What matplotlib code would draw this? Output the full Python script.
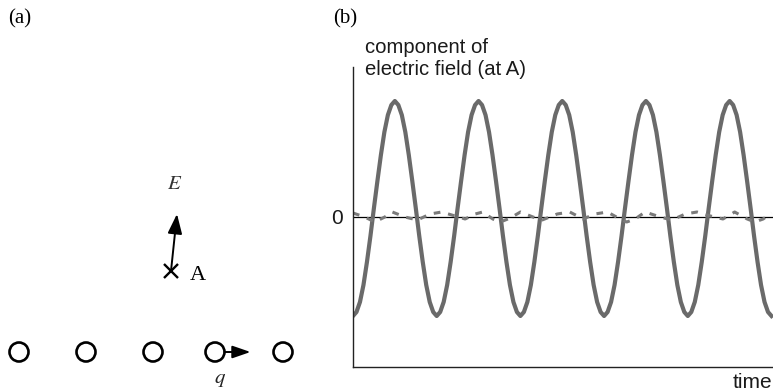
import numpy as np
import matplotlib
matplotlib.use('Agg')
import matplotlib.pyplot as plt
from matplotlib.patches import Circle, FancyArrowPatch

# --- panel (a): row of charges (pixel positions) ---
charge_x = [19, 86, 153, 215, 283]
charge_y = 352
moving_charge = 3          # index of the charge that carries the arrow
point_a = (171, 271)
field_tip = (177, 214)

# --- panel (b): field component at A, time in periods ---
solid_t = np.linspace(0, 5, 121)
solid_v = [
    -0.99, -0.95, -0.85, -0.68, -0.45, -0.19, 0.09, 0.36, 0.62, 0.85, 1.02, 1.12,
    1.16, 1.12, 1.02, 0.85, 0.62, 0.36, 0.09, -0.19, -0.45, -0.68, -0.85, -0.95,
    -0.99, -0.95, -0.85, -0.68, -0.45, -0.19, 0.09, 0.36, 0.62, 0.85, 1.02, 1.12,
    1.16, 1.12, 1.02, 0.85, 0.62, 0.36, 0.09, -0.19, -0.45, -0.68, -0.85, -0.95,
    -0.99, -0.95, -0.85, -0.68, -0.45, -0.19, 0.09, 0.36, 0.62, 0.85, 1.02, 1.12,
    1.16, 1.12, 1.02, 0.85, 0.62, 0.36, 0.09, -0.19, -0.45, -0.68, -0.85, -0.95,
    -0.99, -0.95, -0.85, -0.68, -0.45, -0.19, 0.09, 0.36, 0.62, 0.85, 1.02, 1.12,
    1.16, 1.12, 1.02, 0.85, 0.62, 0.36, 0.09, -0.19, -0.45, -0.68, -0.85, -0.95,
    -0.99, -0.95, -0.85, -0.68, -0.45, -0.19, 0.09, 0.36, 0.62, 0.85, 1.02, 1.12,
    1.16, 1.12, 1.02, 0.85, 0.62, 0.36, 0.09, -0.19, -0.45, -0.68, -0.85, -0.95,
    -0.99,
]
dash_t = [0.0, 0.14, 0.26, 0.38, 0.47, 0.62, 0.77, 0.92, 1.06, 1.22, 1.34, 1.46,
          1.55, 1.67, 1.76, 1.88, 2.0, 2.15, 2.26, 2.44, 2.59, 2.75, 2.89, 3.04,
          3.19, 3.27, 3.37, 3.49, 3.67, 3.81, 3.97, 4.11, 4.27, 4.42, 4.56, 4.71,
          4.8, 4.9, 5.0]
dash_v = [0.04, 0.0, -0.05, 0.0, 0.05, 0.0, -0.03, 0.03, 0.05, 0.01, -0.02, 0.03,
          0.05, -0.02, -0.05, -0.01, 0.05, 0.0, -0.03, 0.03, 0.05, -0.02, 0.03, 0.05,
          -0.02, -0.05, -0.02, 0.05, 0.0, -0.03, 0.03, 0.05, 0.01, -0.02, 0.05, -0.02,
          -0.05, -0.02, 0.04]

W, H = 773, 392
fig = plt.figure(figsize=(W / 100, H / 100), dpi=100)

serif = 'Liberation Serif'
sans = 'Liberation Sans'

# full-figure axes in pixel units for the schematic and the labels
ax_a = fig.add_axes([0, 0, 1, 1])
ax_a.set_xlim(0, W)
ax_a.set_ylim(H, 0)
ax_a.axis('off')

for cx in charge_x:
    ax_a.add_patch(Circle((cx, charge_y), 9.5, fill=False, lw=1.9, ec='black'))

x0 = charge_x[moving_charge] + 9.5
ax_a.add_patch(FancyArrowPatch((x0, charge_y), (x0 + 26, charge_y),
                               arrowstyle='-|>,head_length=11,head_width=3.8',
                               lw=1.4, color='black', shrinkA=0, shrinkB=0))
ax_a.add_patch(FancyArrowPatch(point_a, field_tip,
                               arrowstyle='-|>,head_length=12,head_width=4.4',
                               lw=1.4, color='black', shrinkA=0, shrinkB=0))
ax_a.plot(point_a[0], point_a[1], marker='x', ms=10, mew=1.7, color='black')

ax_a.text(8, 19, '(a)', family=serif, fontsize=15, va='center', ha='left')
ax_a.text(333, 19, '(b)', family=serif, fontsize=15, va='center', ha='left')
ax_a.text(175, 183, '$E$', fontsize=15, va='center', ha='center',
          math_fontfamily='stix', color='#333333')
ax_a.text(190, 275, 'A', family=serif, fontsize=16, va='center', ha='left')
ax_a.text(220, 379, '$q$', fontsize=15, va='center', ha='center',
          math_fontfamily='stix', color='#222222')

ax_a.text(365, 53, 'component of', family=sans, fontsize=14.6, va='baseline',
          color='#1a1a1a')
ax_a.text(365, 75, 'electric field (at A)', family=sans, fontsize=14.6,
          va='baseline', color='#1a1a1a')
ax_a.text(772, 388, 'time', family=sans, fontsize=15, va='baseline', ha='right',
          color='#1a1a1a')

# panel (b) axes
ax_b = fig.add_axes([353 / W, (H - 367) / H, 420 / W, 300 / H])
ax_b.patch.set_alpha(0)
ax_b.set_xlim(0, 420 / 83.7)
ax_b.set_ylim(-1.5, 1.5)
for s in ('top', 'right'):
    ax_b.spines[s].set_visible(False)
for s in ('left', 'bottom'):
    ax_b.spines[s].set_linewidth(1.0)
    ax_b.spines[s].set_color('#222222')
ax_b.set_xticks([])
ax_b.set_yticks([0])
ax_b.set_yticklabels(['0'], family=sans, fontsize=15, color='#1a1a1a')
ax_b.tick_params(axis='y', length=0, pad=7)

ax_b.axhline(0, color='black', lw=0.9)
ax_b.plot(solid_t, solid_v, color='#6a6a6a', lw=3.0, solid_joinstyle='round')
ax_b.plot(dash_t, dash_v, color='#7a7a7a', lw=2.2, dashes=(2.2, 2.6))

fig.savefig('out.png', dpi=100)
